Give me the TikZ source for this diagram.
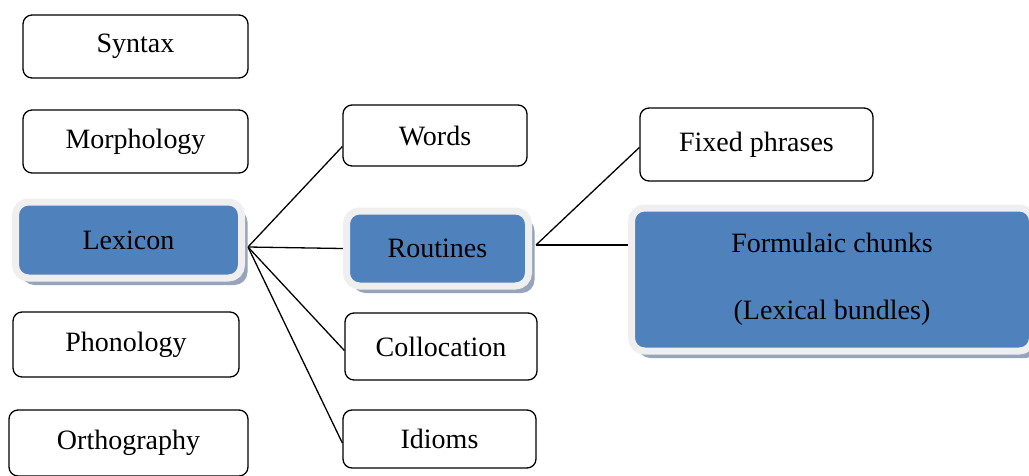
\documentclass[tikz,border=0pt]{standalone}
\usepackage{fontspec}
\setmainfont{Liberation Serif}
\usetikzlibrary{shadows,backgrounds}
\definecolor{lexblue}{HTML}{4F81BD}
\definecolor{framegrey}{HTML}{EFEFEF}
\definecolor{shadowblue}{HTML}{97A5BC}

\begin{document}
\begin{tikzpicture}[x=1pt, y=-1pt,
    plainbox/.style={draw, line width=1.3pt, rounded corners=9pt, fill=white,
        inner sep=0pt, font=\fontsize{28}{34}\selectfont},
    bluebox/.style={draw=framegrey, line width=7pt, fill=lexblue, rounded corners=13pt,
        inner sep=0pt, font=\fontsize{28}{34}\selectfont,
        drop shadow={shadow xshift=6pt, shadow yshift=-7pt, fill=shadowblue, opacity=1}},
    link/.style={line width=1.3pt}]
    \useasboundingbox (0,0) rectangle (1029,475);
    % left column
    \node[plainbox, minimum width=225pt, minimum height=63pt] (syn) at (135.5,46.5) {Syntax};
    \node[plainbox, minimum width=225pt, minimum height=63pt] (mor) at (135.5,141.5) {Morphology};
    \node[bluebox, minimum width=226pt, minimum height=76pt] (lex) at (128.5,240) {Lexicon};
    \node[plainbox, minimum width=226pt, minimum height=65pt] (pho) at (126,344.5) {Phonology};
    \node[plainbox, minimum width=239pt, minimum height=66pt] (ort) at (128.5,443) {Orthography};
    % middle column
    \node[plainbox, minimum width=184pt, minimum height=61pt] (wor) at (435,135.5) {Words};
    \node[bluebox, minimum width=182pt, minimum height=75pt] (rou) at (437.5,248.5) {Routines};
    \node[plainbox, minimum width=192pt, minimum height=67pt] (col) at (441,346.5) {Collocation};
    \node[plainbox, minimum width=193pt, minimum height=58pt] (idi) at (439.5,439) {Idioms};
    % right column
    \node[plainbox, minimum width=233pt, minimum height=73pt] (fix) at (756.5,144.5) {Fixed phrases};
    \node[bluebox, minimum width=401pt, minimum height=143pt, align=center,
        font=\fontsize{28}{67}\selectfont] (for) at (832,279.5)
        {Formulaic chunks\\(Lexical bundles)};
    \coordinate (lexhub) at (248,247);
    \coordinate (rouhub) at (536,245);
    \begin{scope}[on background layer]
        \draw[link] (lexhub) -- ([yshift=-11pt]wor.west);
        \draw[link] (lexhub) -- (rou.west);
        \draw[link] (lexhub) -- ([yshift=-4pt]col.west);
        \draw[link] (lexhub) -- ([yshift=-4pt]idi.west);
        \draw[link] (rouhub) -- ([yshift=-3pt]fix.west);
        \draw[link] (rouhub) -- (rouhub -| for.west);
    \end{scope}
\end{tikzpicture}
\end{document}
